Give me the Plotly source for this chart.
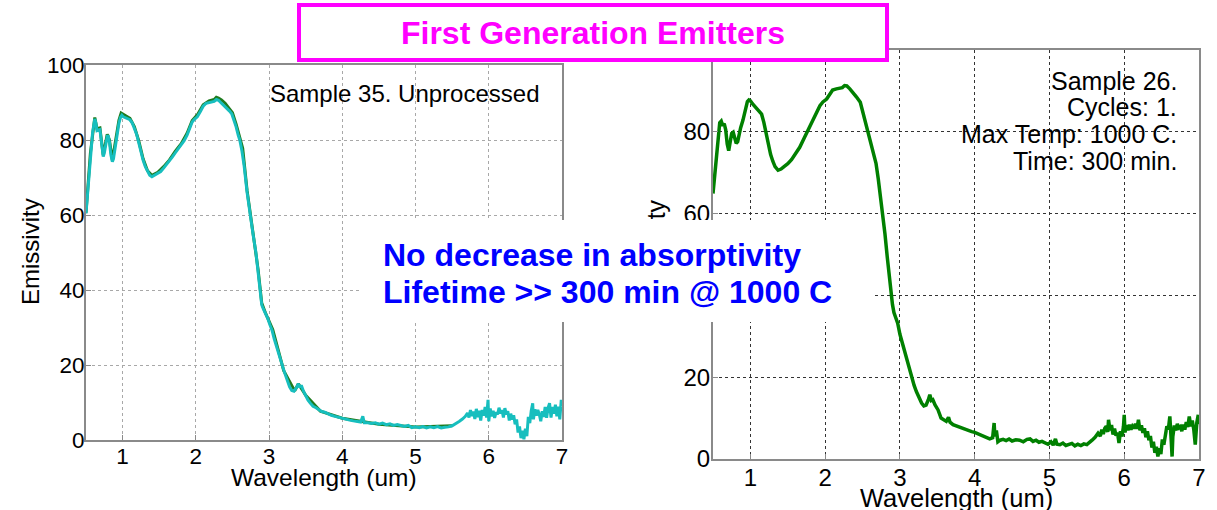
import plotly.graph_objects as go

# ---------------- data ----------------
# Left panel: Sample 35 (unprocessed) - cyan curve
wl_left = [0.50, 0.53, 0.56, 0.59, 0.62, 0.635, 0.65, 0.67, 0.69, 0.705, 0.72, 0.735, 0.75, 0.77, 0.79,
           0.805, 0.82, 0.84, 0.86, 0.875, 0.89, 0.91, 0.93, 0.95, 0.97, 0.99, 1.01, 1.05, 1.10, 1.13,
           1.16, 1.19, 1.22, 1.25, 1.28, 1.31, 1.34, 1.37, 1.40, 1.44, 1.48, 1.52, 1.56, 1.60, 1.64,
           1.68, 1.72, 1.76, 1.80, 1.84, 1.88, 1.92, 1.95, 1.98, 2.02, 2.06, 2.10, 2.14, 2.18, 2.22,
           2.25, 2.28, 2.31, 2.34, 2.38, 2.42, 2.46, 2.49, 2.52, 2.55, 2.58, 2.60, 2.63, 2.66, 2.70,
           2.74, 2.78, 2.82, 2.85, 2.88, 2.895, 2.90, 2.92, 2.95, 2.98, 3.01, 3.04, 3.07, 3.10, 3.13,
           3.16, 3.19, 3.22, 3.25, 3.28, 3.31, 3.34, 3.37, 3.40, 3.42, 3.44, 3.47, 3.50, 3.53, 3.56,
           3.60, 3.64, 3.68, 3.72, 3.76, 3.80, 3.85, 3.90, 3.95, 4.00, 4.05, 4.10, 4.15, 4.20, 4.25,
           4.28, 4.30, 4.35, 4.40, 4.45, 4.50, 4.55, 4.60, 4.65, 4.70, 4.75, 4.80, 4.85, 4.90, 4.95,
           5.00, 5.05, 5.10, 5.15, 5.20, 5.25, 5.30, 5.35, 5.40, 5.45, 5.50, 5.55, 5.60, 5.64, 5.68,
           5.71, 5.73, 5.75, 5.77, 5.79, 5.81, 5.83, 5.85, 5.87, 5.89, 5.91, 5.93, 5.95, 5.97, 5.99,
           6.00, 6.02, 6.04, 6.06, 6.08, 6.10, 6.12, 6.14, 6.16, 6.18, 6.20, 6.22, 6.24, 6.26, 6.28,
           6.30, 6.32, 6.34, 6.36, 6.38, 6.40, 6.42, 6.44, 6.46, 6.48, 6.50, 6.52, 6.54, 6.56, 6.58,
           6.60, 6.61, 6.63, 6.65, 6.67, 6.69, 6.71, 6.73, 6.75, 6.77, 6.79, 6.81, 6.83, 6.85, 6.87,
           6.89, 6.91, 6.93, 6.95, 6.97, 6.99, 7.00]
em_left = [60.4, 68.0, 76.0, 82.0, 85.6, 84.5, 82.5, 82.6, 82.8, 80.5, 77.0, 75.6, 76.5, 79.0, 81.0,
           81.0, 79.5, 76.0, 74.2, 75.0, 77.0, 79.5, 82.0, 84.5, 86.0, 86.6, 86.2, 85.8, 85.4, 84.6,
           83.2, 81.6, 79.3, 76.8, 74.6, 72.9, 71.5, 70.6, 70.2, 70.6, 71.0, 71.6, 72.5, 73.4, 74.3,
           75.5, 76.6, 77.6, 78.6, 79.8, 81.3, 83.5, 84.8, 85.5, 86.2, 87.5, 89.0, 89.8, 90.0, 90.2,
           90.3, 90.8, 90.6, 90.0, 89.3, 88.6, 87.7, 87.0, 85.3, 83.5, 81.2, 80.0, 77.0, 73.0, 66.0,
           60.0, 55.0, 50.0, 45.0, 40.5, 37.8, 36.0, 35.0, 33.8, 32.5, 30.8, 29.3, 27.0, 24.9, 23.0,
           21.0, 19.3, 17.5, 15.8, 14.2, 13.2, 13.0, 13.8, 15.0, 14.0, 14.6, 13.0, 11.8, 10.7, 9.9,
           9.0, 8.6, 8.1, 7.6, 7.4, 7.0, 6.6, 6.3, 6.0, 5.8, 5.6, 5.3, 5.1, 5.0, 4.8,
           6.3, 4.6, 4.6, 4.4, 4.6, 4.2, 4.5, 4.1, 4.3, 3.9, 4.1, 3.8, 3.6, 3.9, 3.3,
           3.5, 3.3, 3.6, 3.2, 3.5, 3.3, 3.6, 3.2, 3.4, 3.5, 3.8, 4.3, 5.0, 5.6, 6.3,
           7.2, 6.0, 8.0, 6.4, 7.6, 5.6, 8.3, 6.1, 7.8, 5.2, 8.0, 6.5, 8.8, 6.0, 10.7,
           5.0, 8.4, 6.3, 7.8, 5.9, 7.4, 6.8, 8.6, 7.1, 8.0, 6.0, 8.5, 6.8, 7.7, 5.2,
           7.0, 5.5, 6.6, 4.2, 5.5, 2.0, 3.6, 0.5, 2.5, 0.2, 3.0, 1.0, 6.2, 4.5, 7.8,
           9.8, 5.5, 8.2, 6.5, 8.0, 6.8, 5.0, 7.7, 6.2, 8.8, 5.9, 8.6, 9.8, 6.0, 8.8,
           7.0, 9.4, 6.3, 8.9, 5.5, 10.7, 9.0]

# Left panel: second (green) measurement, mostly hidden under cyan
wl_left_g = [0.50, 0.56, 0.62, 0.65, 0.69, 0.735, 0.79, 0.82, 0.86, 0.91, 0.95, 0.98, 1.00, 1.05,
             1.10, 1.16, 1.22, 1.28, 1.34, 1.40, 1.48, 1.56, 1.64, 1.72, 1.80, 1.88, 1.95, 2.02,
             2.10, 2.18, 2.25, 2.28, 2.31, 2.35, 2.40, 2.46, 2.50, 2.55, 2.60, 2.64, 2.70, 2.78,
             2.85, 2.90, 2.95, 3.05, 3.20, 3.35, 3.40, 3.50, 3.70, 4.00, 4.50, 5.00, 5.50]
em_left_g = [60.6, 76.5, 86.0, 83.0, 83.2, 76.0, 81.5, 80.0, 74.6, 80.0, 85.3, 87.2, 87.0, 86.3,
             85.8, 83.6, 79.8, 75.0, 71.8, 70.6, 71.4, 72.9, 74.7, 77.0, 79.0, 81.8, 85.2, 86.7,
             89.4, 90.4, 90.8, 91.4, 91.2, 90.7, 89.8, 88.3, 87.3, 84.2, 80.8, 77.8, 66.5, 55.5,
             45.5, 36.5, 33.9, 29.5, 18.5, 13.1, 15.0, 11.9, 7.7, 5.8, 4.2, 3.5, 3.8]

# Right panel: Sample 26, 1 cycle, 1000 C, 300 min
wl_right = [0.50, 0.53, 0.55, 0.57, 0.59, 0.61, 0.63, 0.65, 0.67, 0.69, 0.71, 0.73, 0.75, 0.77, 0.79,
            0.81, 0.83, 0.85, 0.87, 0.90, 0.93, 0.96, 0.98, 1.00, 1.03, 1.07, 1.11, 1.15, 1.18, 1.21,
            1.24, 1.27, 1.30, 1.33, 1.37, 1.41, 1.45, 1.50, 1.55, 1.60, 1.66, 1.72, 1.79, 1.86, 1.93,
            1.97, 2.02, 2.06, 2.10, 2.15, 2.19, 2.23, 2.26, 2.29, 2.33, 2.37, 2.42, 2.47, 2.51, 2.55,
            2.59, 2.62, 2.66, 2.68, 2.71, 2.74, 2.77, 2.80, 2.83, 2.86, 2.88, 2.90, 2.92, 2.95, 2.97,
            3.00, 3.02, 3.05, 3.09, 3.12, 3.15, 3.19, 3.22, 3.26, 3.29, 3.32, 3.35, 3.38, 3.40, 3.42,
            3.44, 3.47, 3.51, 3.55, 3.58, 3.62, 3.65, 3.67, 3.71, 3.75, 3.80, 3.84, 3.88, 3.92, 3.96,
            4.00, 4.04, 4.08, 4.12, 4.16, 4.20, 4.24, 4.26, 4.27, 4.29, 4.31, 4.34, 4.38, 4.42, 4.46,
            4.50, 4.55, 4.60, 4.65, 4.70, 4.74, 4.78, 4.82, 4.86, 4.90, 4.94, 4.98, 5.02, 5.05, 5.08,
            5.10, 5.14, 5.18, 5.22, 5.26, 5.30, 5.34, 5.38, 5.42, 5.46, 5.50, 5.53, 5.57, 5.61, 5.65,
            5.68, 5.70, 5.72, 5.74, 5.76, 5.78, 5.79, 5.81, 5.83, 5.85, 5.87, 5.89, 5.91, 5.93, 5.95,
            5.97, 5.99, 6.00, 6.01, 6.03, 6.05, 6.07, 6.09, 6.11, 6.13, 6.15, 6.17, 6.19, 6.21, 6.23,
            6.25, 6.27, 6.29, 6.31, 6.33, 6.35, 6.37, 6.39, 6.41, 6.43, 6.45, 6.47, 6.49, 6.51, 6.53,
            6.55, 6.57, 6.59, 6.61, 6.63, 6.64, 6.65, 6.67, 6.69, 6.71, 6.73, 6.75, 6.77, 6.79, 6.81,
            6.83, 6.85, 6.87, 6.89, 6.91, 6.93, 6.95, 6.97, 6.99, 7.00]
em_right = [64.9, 71.0, 76.0, 78.5, 82.2, 82.6, 81.5, 82.0, 80.5, 77.0, 75.4, 77.5, 79.6, 79.9, 78.5,
            77.2, 77.6, 79.5, 81.0, 82.8, 85.2, 87.4, 87.8, 87.6, 86.8, 86.0, 85.3, 84.3, 82.3, 79.5,
            76.7, 74.5, 72.8, 71.5, 70.6, 70.9, 71.5, 72.2, 73.2, 74.6, 76.2, 78.5, 81.1, 83.8, 86.4,
            87.3, 88.0, 89.1, 90.2, 90.5, 90.6, 90.8, 91.3, 91.2, 90.5, 89.7, 88.5, 87.2, 84.5, 81.1,
            78.5, 76.7, 73.8, 72.3, 68.5, 64.5, 60.0, 55.0, 49.5, 44.0, 40.5, 37.8, 35.8, 34.5, 33.2,
            30.5, 29.1, 27.4, 25.0, 22.5, 20.1, 18.0, 16.5, 14.8, 13.7, 13.0, 13.2, 14.5, 15.7, 14.3,
            14.5, 13.2, 12.0, 10.0, 9.6, 9.2, 10.2, 9.0, 8.4, 8.1, 7.8, 7.6, 7.2, 7.0, 6.7,
            6.5, 6.2, 5.8, 5.4, 5.1, 4.9, 5.2, 8.8, 5.5, 7.0, 4.2, 4.6, 4.8, 4.5, 4.9,
            4.4, 4.7, 4.6, 4.2, 4.8, 4.9, 4.3, 4.6, 4.1, 4.3, 3.9, 3.6, 4.2, 3.4, 4.9,
            3.6, 3.5, 3.9, 3.3, 3.6, 3.8, 3.2, 3.6, 3.3, 3.7, 3.5, 3.9, 4.6, 5.3, 6.3,
            5.6, 7.2, 6.1, 7.5, 8.0, 6.6, 9.6, 7.0, 8.3, 6.0, 7.4, 5.7, 6.4, 3.9, 6.8,
            5.5, 8.0, 10.8, 6.5, 8.3, 7.0, 8.4, 7.2, 8.0, 7.5, 8.6, 7.4, 9.6, 7.0, 8.2,
            6.4, 7.5, 5.3, 6.8, 4.6, 5.6, 2.8, 4.2, 1.5, 3.0, 0.6, 2.6, 1.2, 4.8, 3.5,
            6.5, 8.0, 7.2, 10.4, 4.0, 0.6, 5.5, 8.2, 7.0, 8.6, 7.6, 7.9, 6.8, 8.4, 7.2,
            9.0, 7.8, 10.4, 8.0, 9.4, 7.2, 3.5, 8.8, 10.8, 8.5]

x_ticks = [1, 2, 3, 4, 5, 6, 7]
y_ticks = [0, 20, 40, 60, 80, 100]

title_text = "First Generation Emitters"
left_note = "Sample 35. Unprocessed"
right_note = ["Sample 26.", "Cycles: 1.", "Max Temp: 1000 C.", "Time: 300 min."]
blue_note = ["No decrease in absorptivity", "Lifetime >> 300 min @ 1000 C"]
x_label = "Wavelength (um)"
y_label = "Emissivity"

# ---------------- figure ----------------
W, H = 1217, 510
FONT = "Liberation Sans, Arial, Helvetica, sans-serif"

def px(x):
    return x / W

def py(y):
    return 1 - y / H

fig = go.Figure()
fig.add_trace(go.Scatter(x=wl_left_g, y=em_left_g, mode="lines",
                         line=dict(color="#1E7B1E", width=3), xaxis="x", yaxis="y",
                         showlegend=False, hoverinfo="skip"))
fig.add_trace(go.Scatter(x=wl_left, y=em_left, mode="lines",
                         line=dict(color="#17BEBE", width=3), xaxis="x", yaxis="y",
                         showlegend=False))
fig.add_trace(go.Scatter(x=wl_right, y=em_right, mode="lines",
                         line=dict(color="#008000", width=3.5), xaxis="x2", yaxis="y2",
                         showlegend=False))

def axis_common(gridcolor, fsize, standoff):
    return dict(showgrid=True, gridcolor=gridcolor, griddash="dot", gridwidth=1,
                showline=True, linecolor="#8a8a8a", linewidth=2, mirror=True,
                ticks="inside", ticklen=5, tickcolor="#8a8a8a",
                tickfont=dict(family=FONT, size=fsize, color="black"),
                ticklabelstandoff=standoff,
                zeroline=False, fixedrange=True, automargin=False)

fig.update_layout(
    width=W, height=H,
    autosize=False,
    margin=dict(l=0, r=0, t=0, b=0, pad=0, autoexpand=False),
    paper_bgcolor="white", plot_bgcolor="white",
    font=dict(family=FONT, color="black"),
    xaxis=dict(domain=[px(86), px(562)], range=[0.5, 7], tickvals=x_ticks, anchor="y",
               **axis_common("#a8a8a8", 22.5, -5)),
    yaxis=dict(domain=[py(440), py(65)], range=[0, 100], tickvals=y_ticks, anchor="x",
               **axis_common("#a8a8a8", 22.5, -5)),
    xaxis2=dict(domain=[px(713), px(1199)], range=[0.5, 7], tickvals=x_ticks, anchor="y2",
                **axis_common("#333333", 24, -4)),
    yaxis2=dict(domain=[py(459), py(50)], range=[0, 100], tickvals=y_ticks, anchor="x2",
                **axis_common("#333333", 24, -4)),
)

ann = []
def add(text, x, y, size, xanchor="center", yanchor="middle", angle=0, color="black", **kw):
    d = dict(text=text, x=px(x), y=py(y), xref="paper", yref="paper", showarrow=False,
             xanchor=xanchor, yanchor=yanchor, textangle=angle,
             font=dict(family=FONT, size=size, color=color))
    d.update(kw)
    ann.append(d)

# axis titles
add(y_label, 30, 252, 24, angle=-90)
add(y_label, 656, 255, 25, angle=-90)
add(x_label, 324, 477, 24.5)
add(x_label, 956, 498, 25.5)

# in-plot notes
add(left_note, 268, 93, 24, xanchor="left")
for txt, yy in zip(right_note, [81, 107, 134, 161]):
    add(txt, 1179, yy, 25, xanchor="right")

# white box behind the blue message
add(" ", 616.5, 271, 10, width=513, height=102, bgcolor="white", borderpad=0, borderwidth=0)
for txt, yy in zip(blue_note, [255, 292]):
    add("<b>" + txt + "</b>", 381, yy, 32, xanchor="left", color="#0000FF")

# magenta title box
add("<b>" + title_text + "</b>", 593, 32.5, 32, color="#FF00FF",
    width=584, height=51, bgcolor="white", bordercolor="#FF00FF", borderwidth=4, borderpad=0)

fig.update_layout(annotations=ann)
fig.write_html("out.html", config={"displayModeBar": False})
